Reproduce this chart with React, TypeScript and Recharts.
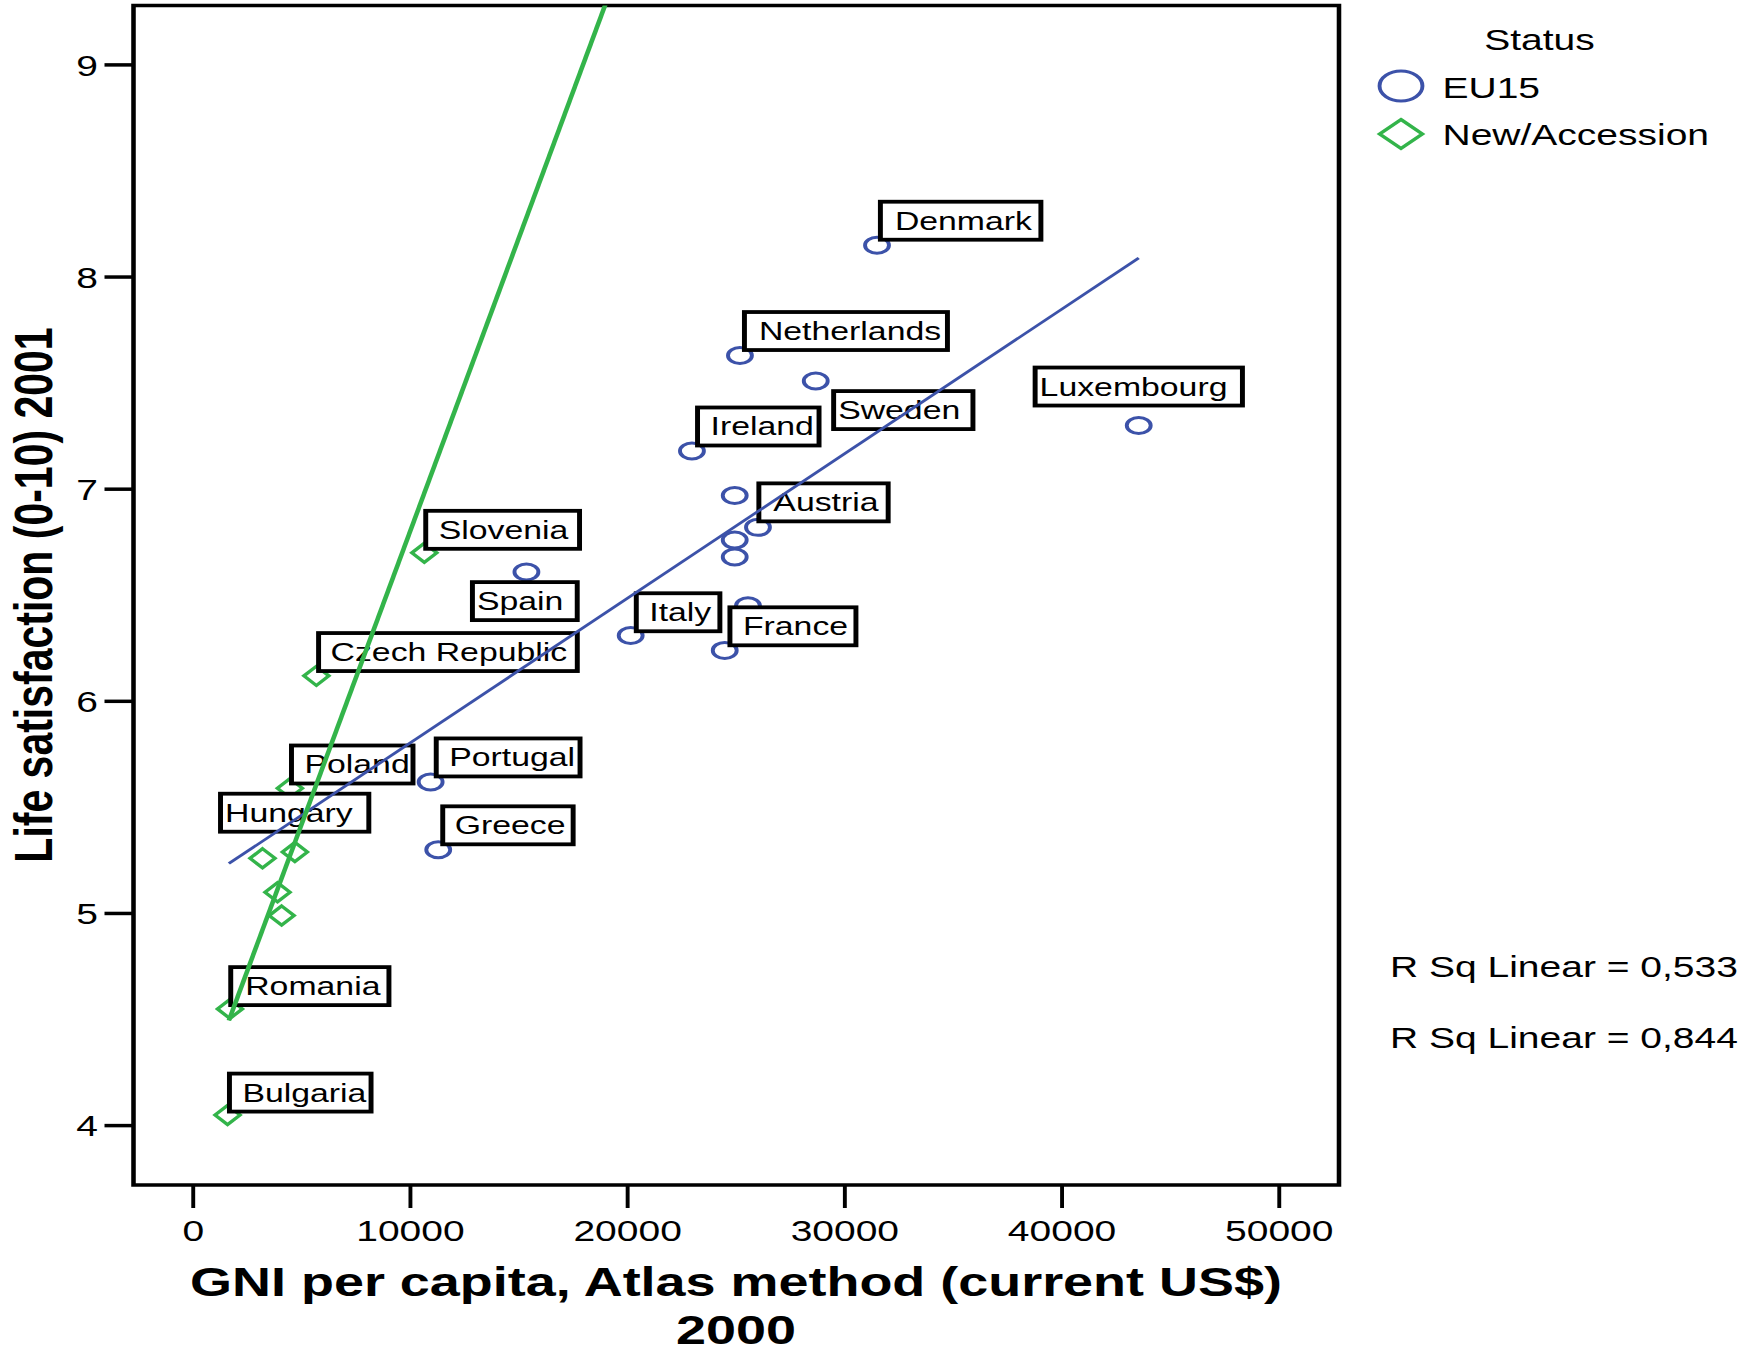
import React from "react";
import { ScatterChart, Scatter, XAxis, YAxis, ReferenceArea } from "recharts";

// values
const eu15Country = [
  "Denmark", "Netherlands", "Sweden", "Luxembourg", "Ireland", "", "Austria",
  "", "", "", "France", "Italy", "Spain", "Portugal", "Greece",
];
const eu15Gni = [
  31480, 25170, 28660, 43530, 22960, 24930, 26000, 24930, 24930, 25540, 24470,
  20140, 15340, 10930, 11280,
];
const eu15Life = [
  8.15, 7.63, 7.51, 7.3, 7.18, 6.97, 6.82, 6.76, 6.68, 6.45, 6.24, 6.31, 6.61,
  5.62, 5.3,
];

const accCountry = [
  "Slovenia", "Czech Republic", "Poland", "Hungary", "", "", "", "Romania", "Bulgaria",
];
const accGni = [10640, 5670, 4450, 3190, 4680, 3880, 4070, 1690, 1580];
const accLife = [6.7, 6.12, 5.59, 5.26, 5.29, 5.1, 4.99, 4.55, 4.05];

// fit line end points, as drawn in the reference
const fitGni = [1640, 43530];
const eu15Fit = [5.235, 8.09];
const accFit = [4.495, 16.07];

const xTicks = [0, 10000, 20000, 30000, 40000, 50000];
const yTicks = [4, 5, 6, 7, 8, 9];

const BLUE = "#3c52a9";
const GREEN = "#33b44a";
const FONT = "'Liberation Sans', Arial, sans-serif";

// the reference is stretched horizontally, so draw narrow and scale
const S = 1.3;
const W = 1748 / S;
const H = 1354;
const PL = 133.5 / S;
const PR = 1339 / S;
const PT = 5.5;
const PB = 1185;
const YW = 60;
const XH = 30;

// label boxes, in reference pixels relative to the point
const labelPlace: Record<string, { dx: number; dy: number; w: number; pad: number }> = {
  Denmark: { dx: 3.4, dy: -43.5, w: 160.5, pad: 14.5 },
  Netherlands: { dx: 4.5, dy: -43.5, w: 203, pad: 14.5 },
  Sweden: { dx: 17.9, dy: 10.1, w: 139.3, pad: 4.5 },
  Luxembourg: { dx: -103.6, dy: -58, w: 207.3, pad: 4.5 },
  Ireland: { dx: 5.6, dy: -43.5, w: 121.5, pad: 13 },
  Austria: { dx: 0.9, dy: -44, w: 129.3, pad: 14.5 },
  Spain: { dx: -54, dy: 10.2, w: 104.8, pad: 4.5 },
  Italy: { dx: 5.6, dy: -42.3, w: 83.6, pad: 13 },
  France: { dx: 5.2, dy: -43.1, w: 126, pad: 13 },
  Portugal: { dx: 5.6, dy: -43.5, w: 143.8, pad: 13 },
  Greece: { dx: 4.5, dy: -43.5, w: 130.4, pad: 12 },
  Slovenia: { dx: 1.4, dy: -42, w: 153.8, pad: 13 },
  "Czech Republic": { dx: 2.2, dy: -42.8, w: 258.7, pad: 12 },
  Poland: { dx: 1.6, dy: -42.8, w: 121.5, pad: 13 },
  Hungary: { dx: -42, dy: -64.6, w: 148.3, pad: 4.5 },
  Romania: { dx: 0.8, dy: -41.8, w: 158.2, pad: 14.5 },
  Bulgaria: { dx: 1.9, dy: -41.4, w: 141.6, pad: 13 },
};

const eu15Data = eu15Gni.map((x, i) => ({ x, y: eu15Life[i], name: eu15Country[i] }));
const accData = accGni.map((x, i) => ({ x, y: accLife[i], name: accCountry[i] }));
const labelData = [...eu15Data, ...accData].filter((d) => d.name);
const eu15FitData = fitGni.map((x, i) => ({ x, y: eu15Fit[i] }));
const accFitData = fitGni.map((x, i) => ({ x, y: accFit[i] }));

const Circle = (props: any) => (
  <ellipse cx={props.cx} cy={props.cy} rx={9.2} ry={8} fill="none" stroke={BLUE} strokeWidth={3} />
);

const Diamond = (props: any) => {
  const { cx, cy } = props;
  const r = 9.6;
  return (
    <polygon
      points={`${cx},${cy - r} ${cx + r},${cy} ${cx},${cy + r} ${cx - r},${cy}`}
      fill="none"
      stroke={GREEN}
      strokeWidth={3}
    />
  );
};

const NoMark = () => <g />;

const LabelBox = (props: any) => {
  const { cx, cy, payload } = props;
  const p = labelPlace[payload.name];
  if (!p) return <g />;
  const x = cx + p.dx / S;
  const y = cy + p.dy;
  return (
    <g>
      <rect x={x} y={y} width={p.w / S} height={38} fill="#fff" stroke="#000" strokeWidth={3.8} />
      <text x={x + p.pad / S} y={y + 28} fontSize={26} fill="#000">
        {payload.name}
      </text>
    </g>
  );
};

export default function App() {
  return (
    <div
      style={{
        position: "absolute",
        left: 0,
        top: 0,
        width: W,
        height: H,
        transform: `scaleX(${S})`,
        transformOrigin: "0 0",
        fontFamily: FONT,
        background: "#fff",
      }}
    >
      <ScatterChart
        width={W}
        height={H}
        margin={{ top: PT, left: PL - YW, right: W - PR, bottom: H - PB - XH }}
      >
        <XAxis
          type="number"
          dataKey="x"
          domain={[-2750, 52750]}
          ticks={xTicks}
          allowDataOverflow
          axisLine={false}
          tickSize={23}
          tickMargin={12}
          height={XH}
          tickLine={{ stroke: "#000", strokeWidth: 3 }}
          tick={{ fill: "#000", fontSize: 30 }}
        />
        <YAxis
          type="number"
          dataKey="y"
          domain={[3.72, 9.28]}
          ticks={yTicks}
          allowDataOverflow
          axisLine={false}
          width={YW}
          tickSize={29 / S}
          tickMargin={5}
          tickLine={{ stroke: "#000", strokeWidth: 3.5 }}
          tick={{ fill: "#000", fontSize: 30 }}
        />
        <ReferenceArea
          x1={-2750}
          x2={52750}
          y1={3.72}
          y2={9.28}
          fill="none"
          stroke="#000"
          strokeWidth={3.5}
          ifOverflow="visible"
        />
        <Scatter data={eu15Data} shape={Circle} isAnimationActive={false} />
        <Scatter data={accData} shape={Diamond} isAnimationActive={false} />
        <Scatter data={labelData} shape={LabelBox} isAnimationActive={false} />
        {/* fit lines drawn last, over the label boxes */}
        <Scatter
          data={eu15FitData}
          shape={NoMark}
          line={{ stroke: BLUE, strokeWidth: 2.6 }}
          isAnimationActive={false}
        />
        <Scatter
          data={accFitData}
          shape={NoMark}
          line={{ stroke: GREEN, strokeWidth: 3.6 }}
          isAnimationActive={false}
        />
      </ScatterChart>
      <svg
        width={W}
        height={H}
        style={{ position: "absolute", left: 0, top: 0, pointerEvents: "none" }}
      >
        <text
          transform={`translate(${33 / S}, 595) rotate(-90)`}
          textAnchor="middle"
          dy="0.36em"
          fontSize={41}
          fontWeight="bold"
        >
          Life satisfaction (0-10) 2001
        </text>
        <text x={736 / S} y={1296.5} textAnchor="middle" fontSize={41.5} fontWeight="bold">
          GNI per capita, Atlas method (current US$)
        </text>
        <text x={736 / S} y={1344} textAnchor="middle" fontSize={41.5} fontWeight="bold">
          2000
        </text>

        <text x={1539.5 / S} y={50} textAnchor="middle" fontSize={30}>
          Status
        </text>
        <ellipse cx={1401 / S} cy={86} rx={16.5} ry={15} fill="none" stroke={BLUE} strokeWidth={3} />
        <text x={1442.5 / S} y={98} fontSize={30}>
          EU15
        </text>
        <polygon
          points={`${1401 / S},${134 - 14.5} ${1401 / S + 16.5},134 ${1401 / S},${134 + 14.5} ${1401 / S - 16.5},134`}
          fill="none"
          stroke={GREEN}
          strokeWidth={3}
        />
        <text x={1442.5 / S} y={145} fontSize={30}>
          New/Accession
        </text>

        <text x={1390 / S} y={977.5} fontSize={30}>
          R Sq Linear = 0,533
        </text>
        <text x={1390 / S} y={1048} fontSize={30}>
          R Sq Linear = 0,844
        </text>
      </svg>
    </div>
  );
}
